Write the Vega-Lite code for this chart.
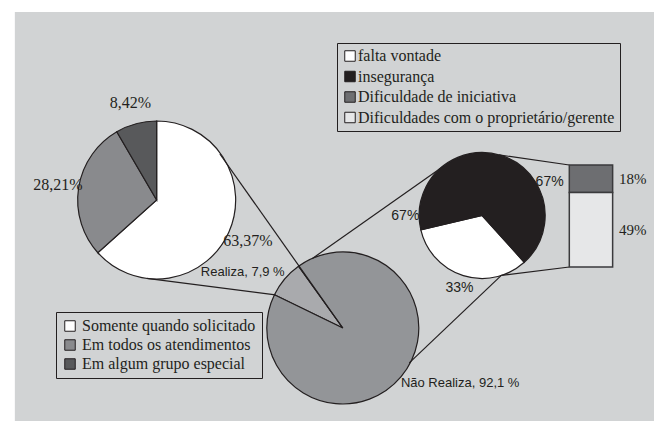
{
  "$schema": "https://vega.github.io/schema/vega-lite/v6.json",
  "width": 659,
  "height": 421,
  "autosize": {"type": "none"},
  "padding": 0,
  "background": "#ffffff",
  "config": {"view": {"stroke": null}},
  "datasets": {
    "realiza": [
      {"categoria": "Somente quando solicitado", "valor": 63.37, "rotulo": "63,37%", "ordem": 1},
      {"categoria": "Em todos os atendimentos", "valor": 28.21, "rotulo": "28,21%", "ordem": 2},
      {"categoria": "Em algum grupo especial", "valor": 8.42, "rotulo": "8,42%", "ordem": 3}
    ],
    "geral": [
      {"categoria": "Realiza", "valor": 7.9, "rotulo": "Realiza, 7,9 %", "ordem": 1},
      {"categoria": "Não Realiza", "valor": 92.1, "rotulo": "Não Realiza, 92,1 %", "ordem": 2}
    ],
    "nao_realiza": [
      {"categoria": "falta vontade", "valor": 33, "rotulo": "33%", "ordem": 1},
      {"categoria": "insegurança", "valor": 67, "rotulo": "67%", "ordem": 2}
    ],
    "inseguranca": [
      {"categoria": "Dificuldade de iniciativa", "valor": 18, "rotulo": "18%", "ordem": 2},
      {"categoria": "Dificuldades com o proprietário/gerente", "valor": 49, "rotulo": "49%", "ordem": 1}
    ]
  },
  "resolve": {"scale": {"y": "independent", "color": "independent", "theta": "independent"}},
  "layer": [
    {
      "resolve": {"scale": {"color": "independent", "theta": "independent"}},
      "layer": [
        {
          "data": {"values": [{}]},
          "mark": {"type": "rect", "fill": "#d1d3d4"},
          "encoding": {
            "x": {"datum": 10, "type": "quantitative", "scale": {"domain": [0, 659], "nice": false, "zero": false}, "axis": null},
            "x2": {"datum": 659},
            "y": {"datum": 12, "type": "quantitative", "scale": {"domain": [0, 421], "nice": false, "zero": false, "reverse": true}, "axis": null},
            "y2": {"datum": 421}
          }
        },
        {
          "data": {"name": "realiza"},
          "layer": [
            {
              "mark": {"type": "arc", "outerRadius": 79, "stroke": "#231f20", "strokeWidth": 1.2},
              "encoding": {
                "x": {"datum": 154, "type": "quantitative", "scale": {"domain": [0, 659], "nice": false, "zero": false}, "axis": null},
                "y": {"datum": 200, "type": "quantitative", "scale": {"domain": [0, 421], "nice": false, "zero": false, "reverse": true}, "axis": null},
                "theta": {"field": "valor", "type": "quantitative", "stack": true},
                "order": {"field": "ordem", "type": "quantitative"},
                "color": {
                  "field": "categoria", "type": "nominal",
                  "scale": {"domain": ["Somente quando solicitado", "Em todos os atendimentos", "Em algum grupo especial"], "range": ["#ffffff", "#898a8d", "#58595b"]},
                  "legend": {"orient": "none", "legendX": 56, "legendY": 312, "title": null, "padding": 6, "strokeColor": "#231f20", "symbolType": "square", "symbolSize": 110, "symbolStrokeColor": "#231f20", "symbolStrokeWidth": 1, "symbolOpacity": 1, "labelFont": "Liberation Serif", "labelFontSize": 16, "labelColor": "#231f20", "labelLimit": 400, "labelOffset": 4, "rowPadding": 3}
                }
              }
            },
            {
              "mark": {"type": "text", "radius": 100, "font": "Liberation Serif", "fontSize": 16, "color": "#231f20"},
              "encoding": {
                "x": {"datum": 154, "type": "quantitative", "scale": {"domain": [0, 659], "nice": false, "zero": false}, "axis": null},
                "y": {"datum": 200, "type": "quantitative", "scale": {"domain": [0, 421], "nice": false, "zero": false, "reverse": true}, "axis": null},
                "theta": {"field": "valor", "type": "quantitative", "stack": true},
                "order": {"field": "ordem", "type": "quantitative"},
                "detail": {"field": "categoria", "type": "nominal"},
                "text": {"field": "rotulo"}
              }
            }
          ]
        },
        {
          "data": {"name": "geral"},
          "layer": [
            {
              "mark": {"type": "arc", "outerRadius": 76, "stroke": "#231f20", "strokeWidth": 1.2},
              "encoding": {
                "x": {"datum": 343, "type": "quantitative", "scale": {"domain": [0, 659], "nice": false, "zero": false}, "axis": null},
                "y": {"datum": 328, "type": "quantitative", "scale": {"domain": [0, 421], "nice": false, "zero": false, "reverse": true}, "axis": null},
                "theta": {"field": "valor", "type": "quantitative", "stack": true, "scale": {"range": [5.1645, 11.4477]}},
                "order": {"field": "ordem", "type": "quantitative"},
                "color": {
                  "field": "categoria", "type": "nominal",
                  "scale": {"domain": ["Realiza", "Não Realiza"], "range": ["#a9aaad", "#939598"]},
                  "legend": null
                }
              }
            },
            {
              "mark": {
                "type": "text", "radius": 76, "font": "Liberation Sans", "fontSize": 13, "color": "#231f20",
                "align": {"expr": "datum.categoria == 'Realiza' ? 'right' : 'left'"},
                "baseline": {"expr": "datum.categoria == 'Realiza' ? 'bottom' : 'top'"}
              },
              "encoding": {
                "x": {"datum": 343, "type": "quantitative", "scale": {"domain": [0, 659], "nice": false, "zero": false}, "axis": null},
                "y": {"datum": 328, "type": "quantitative", "scale": {"domain": [0, 421], "nice": false, "zero": false, "reverse": true}, "axis": null},
                "theta": {"field": "valor", "type": "quantitative", "stack": true, "scale": {"range": [5.1645, 11.4477]}},
                "order": {"field": "ordem", "type": "quantitative"},
                "detail": {"field": "categoria", "type": "nominal"},
                "text": {"field": "rotulo"}
              }
            }
          ]
        },
        {
          "data": {"name": "nao_realiza"},
          "layer": [
            {
              "mark": {"type": "arc", "outerRadius": 63, "stroke": "#231f20", "strokeWidth": 1.2},
              "encoding": {
                "x": {"datum": 484.5, "type": "quantitative", "scale": {"domain": [0, 659], "nice": false, "zero": false}, "axis": null},
                "y": {"datum": 215.5, "type": "quantitative", "scale": {"domain": [0, 421], "nice": false, "zero": false, "reverse": true}, "axis": null},
                "theta": {"field": "valor", "type": "quantitative", "stack": true, "scale": {"range": [2.4086, 8.6918]}},
                "order": {"field": "ordem", "type": "quantitative"},
                "color": {
                  "field": "categoria", "type": "nominal",
                  "scale": {"domain": ["falta vontade", "insegurança"], "range": ["#ffffff", "#231f20"]},
                  "legend": null
                }
              }
            },
            {
              "mark": {"type": "text", "radius": 76, "font": "Liberation Sans", "fontSize": 14, "color": "#231f20"},
              "encoding": {
                "x": {"datum": 484.5, "type": "quantitative", "scale": {"domain": [0, 659], "nice": false, "zero": false}, "axis": null},
                "y": {"datum": 215.5, "type": "quantitative", "scale": {"domain": [0, 421], "nice": false, "zero": false, "reverse": true}, "axis": null},
                "theta": {"field": "valor", "type": "quantitative", "stack": true, "scale": {"range": [2.4086, 8.6918]}},
                "order": {"field": "ordem", "type": "quantitative"},
                "detail": {"field": "categoria", "type": "nominal"},
                "text": {"condition": {"test": "datum.categoria == 'falta vontade'", "field": "rotulo"}, "value": ""}
              }
            },
            {
              "transform": [{"filter": "datum.categoria == 'insegurança'"}],
              "mark": {"type": "text", "font": "Liberation Sans", "fontSize": 14, "color": "#231f20"},
              "encoding": {
                "x": {"datum": 406.5, "type": "quantitative", "scale": {"domain": [0, 659], "nice": false, "zero": false}, "axis": null},
                "y": {"datum": 216, "type": "quantitative", "scale": {"domain": [0, 421], "nice": false, "zero": false, "reverse": true}, "axis": null},
                "text": {"field": "rotulo"}
              }
            },
            {
              "transform": [{"filter": "datum.categoria == 'insegurança'"}],
              "mark": {"type": "text", "font": "Liberation Sans", "fontSize": 14, "color": "#231f20"},
              "encoding": {
                "x": {"datum": 553, "type": "quantitative", "scale": {"domain": [0, 659], "nice": false, "zero": false}, "axis": null},
                "y": {"datum": 182, "type": "quantitative", "scale": {"domain": [0, 421], "nice": false, "zero": false, "reverse": true}, "axis": null},
                "text": {"field": "rotulo"}
              }
            }
          ]
        },
        {
          "data": {"values": [{}]},
          "layer": [
            {"mark": {"type": "rule", "color": "#231f20", "strokeWidth": 1.2}, "encoding": {"x": {"datum": 218.2, "type": "quantitative", "scale": {"domain": [0, 659], "nice": false, "zero": false}, "axis": null}, "y": {"datum": 154, "type": "quantitative", "scale": {"domain": [0, 421], "nice": false, "zero": false, "reverse": true}, "axis": null}, "x2": {"datum": 343}, "y2": {"datum": 328}}},
            {"mark": {"type": "rule", "color": "#231f20", "strokeWidth": 1.2}, "encoding": {"x": {"datum": 144.1, "type": "quantitative", "scale": {"domain": [0, 659], "nice": false, "zero": false}, "axis": null}, "y": {"datum": 278.4, "type": "quantitative", "scale": {"domain": [0, 421], "nice": false, "zero": false, "reverse": true}, "axis": null}, "x2": {"datum": 274.6}, "y2": {"datum": 294.8}}},
            {"mark": {"type": "rule", "color": "#231f20", "strokeWidth": 1.2}, "encoding": {"x": {"datum": 311.8, "type": "quantitative", "scale": {"domain": [0, 659], "nice": false, "zero": false}, "axis": null}, "y": {"datum": 258.7, "type": "quantitative", "scale": {"domain": [0, 421], "nice": false, "zero": false, "reverse": true}, "axis": null}, "x2": {"datum": 445.9}, "y2": {"datum": 165.7}}},
            {"mark": {"type": "rule", "color": "#231f20", "strokeWidth": 1.2}, "encoding": {"x": {"datum": 410.5, "type": "quantitative", "scale": {"domain": [0, 659], "nice": false, "zero": false}, "axis": null}, "y": {"datum": 362.9, "type": "quantitative", "scale": {"domain": [0, 421], "nice": false, "zero": false, "reverse": true}, "axis": null}, "x2": {"datum": 504}, "y2": {"datum": 275.4}}},
            {"mark": {"type": "rule", "color": "#231f20", "strokeWidth": 1.2}, "encoding": {"x": {"datum": 501.6, "type": "quantitative", "scale": {"domain": [0, 659], "nice": false, "zero": false}, "axis": null}, "y": {"datum": 154.9, "type": "quantitative", "scale": {"domain": [0, 421], "nice": false, "zero": false, "reverse": true}, "axis": null}, "x2": {"datum": 573}, "y2": {"datum": 165}}},
            {"mark": {"type": "rule", "color": "#231f20", "strokeWidth": 1.2}, "encoding": {"x": {"datum": 504, "type": "quantitative", "scale": {"domain": [0, 659], "nice": false, "zero": false}, "axis": null}, "y": {"datum": 275.4, "type": "quantitative", "scale": {"domain": [0, 421], "nice": false, "zero": false, "reverse": true}, "axis": null}, "x2": {"datum": 573}, "y2": {"datum": 267}}}
          ]
        }
      ]
    },
    {
      "data": {"name": "inseguranca"},
      "layer": [
        {
          "mark": {"type": "bar", "orient": "vertical", "stroke": "#3a3a3c", "strokeWidth": 1.5},
          "encoding": {
            "x": {"datum": 573, "type": "quantitative", "scale": {"domain": [0, 659], "nice": false, "zero": false}, "axis": null},
            "x2": {"datum": 617},
            "y": {"field": "valor", "type": "quantitative", "stack": "zero", "scale": {"domain": [-101.16, 175.38], "nice": false, "zero": false}, "axis": null},
            "order": {"field": "ordem", "type": "quantitative"},
            "color": {
              "field": "categoria", "type": "nominal",
              "scale": {"domain": ["falta vontade", "insegurança", "Dificuldade de iniciativa", "Dificuldades com o proprietário/gerente"], "range": ["#ffffff", "#231f20", "#6d6e71", "#e6e7e8"]},
              "legend": {"orient": "none", "legendX": 337, "legendY": 43, "title": null, "padding": 5, "strokeColor": "#231f20", "symbolType": "square", "symbolSize": 110, "symbolStrokeColor": "#231f20", "symbolStrokeWidth": 1, "symbolOpacity": 1, "labelFont": "Liberation Serif", "labelFontSize": 16, "labelColor": "#231f20", "labelLimit": 400, "labelOffset": 0, "rowPadding": 4.5}
            }
          }
        },
        {
          "mark": {"type": "text", "font": "Liberation Serif", "fontSize": 15, "color": "#231f20"},
          "encoding": {
            "x": {"datum": 637.5, "type": "quantitative", "scale": {"domain": [0, 659], "nice": false, "zero": false}, "axis": null},
            "y": {"field": "valor", "type": "quantitative", "stack": "zero", "bandPosition": 0.5, "scale": {"domain": [-101.16, 175.38], "nice": false, "zero": false}, "axis": null},
            "order": {"field": "ordem", "type": "quantitative"},
            "detail": {"field": "categoria", "type": "nominal"},
            "text": {"field": "rotulo"}
          }
        }
      ]
    }
  ]
}
